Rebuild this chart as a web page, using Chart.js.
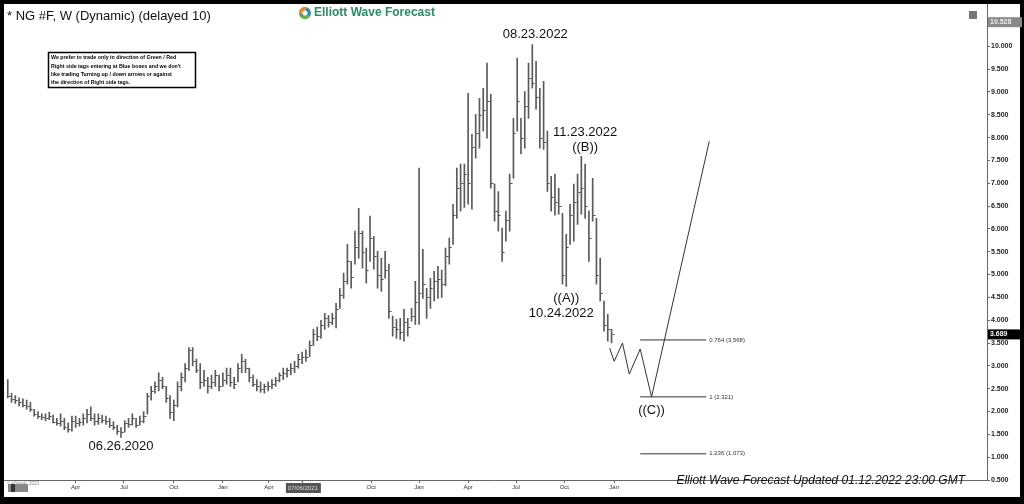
<!DOCTYPE html>
<html><head><meta charset="utf-8">
<script src="https://cdn.jsdelivr.net/npm/chart.js@4.4.1/dist/chart.umd.min.js"></script>
<style>html,body{margin:0;padding:0;background:#000;}#wrap{width:1024px;height:504px;}</style>
</head><body><div id="wrap"><canvas id="c" width="1024" height="504"></canvas></div>
<script>
// weekly bars: high, low, close (week index = position)
const highs = [2.70,2.40,2.35,2.30,2.28,2.25,2.20,2.05,2.00,1.95,1.95,1.98,1.92,1.85,1.95,1.85,1.75,1.90,1.90,1.85,
1.95,2.05,2.10,1.95,1.95,1.92,1.90,1.85,1.78,1.70,1.65,1.80,1.85,1.95,1.85,1.90,2.00,2.40,2.55,2.65,
2.85,2.75,2.55,2.35,2.25,2.65,2.85,3.05,3.40,3.40,3.15,3.05,2.90,2.75,2.80,2.90,2.80,2.85,2.95,2.95,
2.75,3.05,3.25,3.15,2.95,2.80,2.70,2.65,2.60,2.65,2.70,2.75,2.85,2.95,2.95,3.05,3.10,3.25,3.30,3.35,
3.55,3.80,3.85,4.00,4.15,4.10,4.15,4.37,4.70,5.03,5.66,5.29,5.95,6.45,5.95,5.58,6.28,5.84,5.51,5.36,
5.51,5.23,4.09,4.02,4.04,4.24,4.04,4.26,4.85,7.33,5.55,4.70,4.92,5.07,5.18,5.10,5.58,5.80,6.54,7.33,
7.42,7.42,8.97,8.07,8.51,8.86,9.08,9.63,8.95,6.98,6.82,6.02,6.39,7.20,8.42,9.74,8.42,9.01,9.63,10.04,
9.67,9.08,9.23,8.14,7.15,7.20,6.89,6.34,5.88,6.54,6.98,7.20,7.59,7.42,6.39,7.11,6.23,5.36,4.42,4.13,3.80];
const lows = [2.30,2.20,2.18,2.12,2.10,2.05,2.00,1.90,1.85,1.82,1.80,1.82,1.75,1.70,1.68,1.60,1.55,1.57,1.65,1.68,
1.70,1.75,1.80,1.70,1.72,1.75,1.72,1.65,1.60,1.50,1.43,1.55,1.65,1.70,1.65,1.70,1.75,1.95,2.25,2.40,
2.45,2.50,2.20,1.85,1.80,2.10,2.45,2.65,2.90,3.00,2.85,2.50,2.55,2.40,2.50,2.55,2.45,2.55,2.60,2.55,
2.50,2.65,2.85,2.85,2.65,2.55,2.45,2.42,2.40,2.45,2.50,2.55,2.65,2.70,2.75,2.80,2.85,2.95,3.05,3.10,
3.20,3.45,3.55,3.60,3.80,3.85,3.90,3.83,4.26,4.48,4.79,4.70,5.23,5.36,5.14,4.81,5.29,5.12,4.70,4.63,
4.92,4.04,3.65,3.60,3.58,3.54,3.65,3.98,3.91,3.91,4.48,4.04,4.26,4.42,4.48,4.50,4.75,5.23,5.66,6.23,
6.39,6.47,6.54,6.43,7.55,7.77,8.14,7.99,6.89,6.17,5.95,5.29,5.73,5.95,7.11,8.14,7.64,7.77,8.42,9.08,
8.62,7.77,7.74,6.82,6.39,6.30,6.32,4.79,4.74,5.66,5.73,6.10,6.32,6.23,5.29,6.17,4.79,4.42,3.76,3.54,3.50];
const closes = [2.35,2.28,2.25,2.20,2.15,2.12,2.05,1.95,1.90,1.88,1.85,1.90,1.78,1.75,1.80,1.65,1.62,1.80,1.75,1.78,
1.85,1.95,1.85,1.80,1.85,1.82,1.80,1.70,1.65,1.58,1.55,1.75,1.72,1.85,1.70,1.80,1.90,2.35,2.45,2.55,
2.70,2.55,2.30,2.00,2.15,2.55,2.75,2.95,3.35,3.10,2.90,2.65,2.70,2.55,2.65,2.80,2.55,2.70,2.80,2.65,
2.60,2.95,3.10,2.95,2.75,2.60,2.55,2.50,2.55,2.55,2.60,2.70,2.80,2.85,2.90,2.95,3.00,3.15,3.20,3.20,
3.45,3.70,3.65,3.90,4.05,3.95,4.05,4.25,4.55,4.85,5.30,4.95,5.60,5.90,5.50,5.10,5.80,5.40,5.00,4.90,
5.10,4.20,3.85,3.80,3.75,3.95,3.85,4.10,4.40,4.60,4.80,4.50,4.70,4.85,4.90,4.80,5.40,5.60,6.30,6.90,
7.00,7.20,7.00,7.80,8.10,8.50,8.60,8.80,7.00,6.40,6.30,5.50,6.20,7.00,8.10,8.80,8.00,8.70,9.30,9.20,
8.90,8.00,7.90,7.00,6.70,6.60,6.50,5.00,5.60,6.30,6.60,6.80,6.90,6.50,5.80,6.30,5.00,4.60,3.90,3.80,3.69];
// projected path (week index, price)
const projX = [159.5,160.7,162.9,164.7,167.6,170.6,185.9];
const projY = [3.39,3.10,3.50,2.82,3.37,2.32,7.92];
// fibonacci levels
const fibRatios = ['0.764','1','1.236'];
const fibValues = [3.568,2.321,1.073];
const fibStart = 167.6, fibEnd = 185.1;
// x tick positions (week index) and labels
const xTickPos = [18,30.8,44,57,69.2,78.2,96.3,109,122,134.7,147.5,160.7];
const xTickLbl = ['Apr','Jul','Oct','Jan','Apr','07/06/2021','Oct','Jan','Apr','Jul','Oct','Jan'];
const lastPrice = 3.689, topPrice = 10.528;

const barData = highs.map((h,i)=>({x:i,y:[lows[i],h]}));
const fibSets = fibValues.map(v=>({type:'line',data:[{x:fibStart,y:v},{x:fibEnd,y:v}],borderColor:'#333',borderWidth:1,pointRadius:0}));

const overlay = {
  id:'overlay',
  beforeDraw(ch){
    const c=ch.ctx; c.save();
    c.fillStyle='#000'; c.fillRect(0,0,1024,504);
    c.fillStyle='#fff'; c.fillRect(4,4,1016,493);
    c.restore();
  },
  afterDatasetsDraw(ch){
    const c=ch.ctx, xs=ch.scales.x, ys=ch.scales.y, a=ch.chartArea;
    c.save();
    // close ticks
    c.strokeStyle='#444'; c.lineWidth=1;
    closes.forEach((v,i)=>{const px=Math.round(xs.getPixelForValue(i))+0.5,py=Math.round(ys.getPixelForValue(v))+0.5;
      c.beginPath();c.moveTo(px,py);c.lineTo(px+2,py);c.stroke();});
    // frame of plot
    c.strokeStyle='#666'; c.beginPath(); c.moveTo(a.right+0.5,4); c.lineTo(a.right+0.5,a.bottom+0.5); c.lineTo(4,a.bottom+0.5); c.stroke();
    c.fillStyle='#111'; c.textBaseline='middle'; c.textAlign='left';
    c.font='13px "Liberation Sans", Arial, sans-serif';
    c.fillText('* NG #F, W (Dynamic) (delayed 10)',7,16);
    // logo
    c.fillStyle='#2b8fb0'; c.beginPath(); c.arc(305,13,6,0,Math.PI*2); c.fill();
    c.fillStyle='#f08a24'; c.beginPath(); c.arc(305,13,6,Math.PI*0.9,Math.PI*1.6); c.lineTo(305,13); c.fill();
    c.fillStyle='#6cb33f'; c.beginPath(); c.arc(305,13,6,Math.PI*0.2,Math.PI*0.8); c.lineTo(305,13); c.fill();
    c.fillStyle='#fff'; c.beginPath(); c.arc(305,13,2.5,0,Math.PI*2); c.fill();
    c.fillStyle='#2a8a6a'; c.font='bold 12px "Liberation Sans", Arial, sans-serif'; c.fillText('Elliott Wave Forecast',314,13);
    // note box
    c.strokeStyle='#000'; c.lineWidth=1.5; c.strokeRect(48.5,52.5,147,35);
    c.fillStyle='#000'; c.font='bold 5.3px "Liberation Sans", Arial, sans-serif';
    ['We prefer to trade only in direction of Green / Red','Right side tags entering at Blue boxes and we don\'t','like trading Turning up / down arrows or against','the direction of Right side tags.'].forEach((t,k)=>c.fillText(t,51,58+k*8.2));
    // wave labels
    c.font='13px "Liberation Sans", Arial, sans-serif'; c.textAlign='center'; c.fillStyle='#111';
    const P=(i,v)=>[xs.getPixelForValue(i),ys.getPixelForValue(v)];
    let p=P(139.8,10.04); c.fillText('08.23.2022',p[0],p[1]-10);
    p=P(153,7.59); c.fillText('11.23.2022',p[0],p[1]-24); c.fillText('((B))',p[0],p[1]-9);
    p=P(148,4.74); c.fillText('((A))',p[0],p[1]+12); c.fillText('10.24.2022',p[0]-5,p[1]+27);
    p=P(30,1.43); c.fillText('06.26.2020',p[0],p[1]+9);
    p=P(170.6,2.32); c.fillText('((C))',p[0],p[1]+14);
    // fib labels
    c.textAlign='left'; c.font='6px "Liberation Sans", Arial, sans-serif'; c.fillStyle='#333';
    fibValues.forEach((v,k)=>{const q=P(fibEnd,v); c.fillText(fibRatios[k]+' ('+v.toFixed(3)+')',q[0]+3,q[1]);});
    // footer
    c.textAlign='right'; c.font='italic 12px "Liberation Sans", Arial, sans-serif'; c.fillStyle='#111';
    c.fillText('Elliott Wave Forecast Updated 01.12.2022 23:00 GMT',965,481);
    c.textAlign='left'; c.font='4.5px "Liberation Sans", Arial, sans-serif'; c.fillStyle='#888';
    c.fillText('© eSignal, 2023',7,484);
    // top-right icon
    c.fillStyle='#777'; c.fillRect(969,11,8,8);
    // price boxes
    c.font='bold 7px "Liberation Sans", Arial, sans-serif';
    let yy=ys.getPixelForValue(topPrice); c.fillStyle='#8a8a8a'; c.fillRect(a.right+1,yy-5,34,10); c.fillStyle='#eee'; c.fillText('10.528',a.right+3,yy);
    yy=ys.getPixelForValue(lastPrice); c.fillStyle='#000'; c.fillRect(a.right+1,yy-5,36,10); c.fillStyle='#fff'; c.fillText('3.689',a.right+3,yy);
    // highlighted date tick
    const hx=xs.getPixelForValue(78.2); c.fillStyle='#555'; c.fillRect(hx-17,a.bottom+3,35,10);
    c.fillStyle='#ddd'; c.font='6px "Liberation Sans", Arial, sans-serif'; c.textAlign='center'; c.fillText('07/06/2021',hx,a.bottom+8.5);
    c.fillStyle='#888'; c.fillRect(8,a.bottom+4,20,8); c.fillStyle='#333'; c.fillRect(11,a.bottom+4,4,8);
    c.restore();
  }
};

new Chart(document.getElementById('c'),{
  data:{datasets:[
    {type:'bar',data:barData,backgroundColor:'#5a5a5a',barThickness:1,borderWidth:0},
    {type:'line',data:projX.map((x,i)=>({x,y:projY[i]})),borderColor:'#333',borderWidth:1,pointRadius:0,tension:0},
    ...fibSets
  ]},
  options:{
    responsive:false,animation:false,
    layout:{padding:{left:4,top:4,right:2,bottom:7}},
    plugins:{legend:{display:false},tooltip:{enabled:false}},
    scales:{
      x:{type:'linear',offset:false,min:-1,max:259.5,grid:{display:true,offset:false,drawOnChartArea:false,tickLength:3,color:'#666'},border:{display:false},
        afterBuildTicks:s=>{s.ticks=xTickPos.map(v=>({value:v}));},
        afterFit:s=>{s.height=17;},
        ticks:{autoSkip:false,maxRotation:0,padding:1,color:'#333',font:{size:6,family:'"Liberation Sans", Arial'},
          callback:(v)=>{const k=xTickPos.indexOf(v);return (k<0||xTickLbl[k]==='07/06/2021')?'':xTickLbl[k];}}},
      y:{position:'right',min:0.5,max:10.9,grid:{display:true,drawOnChartArea:false,tickLength:3,color:'#666'},border:{display:false},
        afterFit:s=>{s.width=35;},
        afterBuildTicks:s=>{s.ticks=s.ticks.filter(t=>Math.abs(t.value*2-Math.round(t.value*2))<1e-6);},
        ticks:{stepSize:0.5,padding:1,color:'#222',font:{size:7,weight:'bold',family:'"Liberation Sans", Arial'},callback:v=>Number(v).toFixed(3)}}
    }
  },
  plugins:[overlay]
});
</script></body></html>
